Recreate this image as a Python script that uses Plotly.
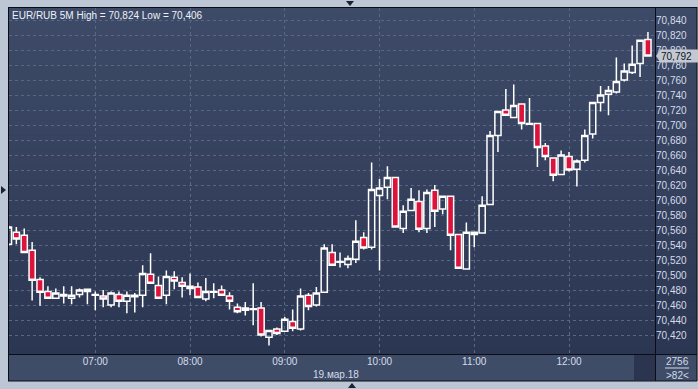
import plotly.graph_objects as go
import pandas as pd

W, H = 698, 389

# ---- data (EUR/RUB 5M, 19.03.18) ----
start_time = "2018-03-19 06:05"
n_candles = 82
open_ = [70.541, 70.557, 70.553, 70.533, 70.494, 70.478, 70.469, 70.474, 70.469, 70.474,
         70.481, 70.473, 70.472, 70.460, 70.474, 70.465, 70.473, 70.473, 70.501, 70.486,
         70.473, 70.497, 70.490, 70.485, 70.484, 70.468, 70.477, 70.480, 70.472, 70.457,
         70.453, 70.454, 70.456, 70.417, 70.428, 70.425, 70.438, 70.428, 70.473, 70.460,
         70.477, 70.530, 70.517, 70.514, 70.521, 70.550, 70.537, 70.606, 70.617, 70.630,
         70.562, 70.586, 70.598, 70.562, 70.613, 70.588, 70.605, 70.554, 70.508, 70.557,
         70.556, 70.594, 70.686, 70.720, 70.710, 70.728, 70.701, 70.702, 70.672, 70.656,
         70.634, 70.658, 70.641, 70.653, 70.688, 70.730, 70.741, 70.744, 70.760, 70.770,
         70.782, 70.814]
high = [70.566, 70.564, 70.562, 70.544, 70.497, 70.485, 70.482, 70.485, 70.485, 70.482,
        70.481, 70.478, 70.480, 70.478, 70.478, 70.478, 70.476, 70.513, 70.529, 70.498,
        70.506, 70.505, 70.497, 70.502, 70.490, 70.496, 70.489, 70.486, 70.477, 70.462,
        70.464, 70.489, 70.464, 70.426, 70.430, 70.444, 70.454, 70.482, 70.476, 70.484,
        70.541, 70.541, 70.530, 70.526, 70.573, 70.557, 70.650, 70.628, 70.645, 70.630,
        70.593, 70.616, 70.613, 70.614, 70.620, 70.605, 70.605, 70.554, 70.570, 70.557,
        70.605, 70.692, 70.718, 70.748, 70.754, 70.729, 70.736, 70.702, 70.676, 70.656,
        70.666, 70.664, 70.654, 70.694, 70.730, 70.752, 70.752, 70.790, 70.782, 70.806,
        70.813, 70.824]
low = [70.539, 70.541, 70.530, 70.466, 70.459, 70.469, 70.469, 70.462, 70.461, 70.470,
       70.461, 70.453, 70.457, 70.457, 70.457, 70.449, 70.450, 70.457, 70.489, 70.468,
       70.461, 70.481, 70.470, 70.473, 70.470, 70.465, 70.469, 70.473, 70.454, 70.449,
       70.446, 70.433, 70.418, 70.406, 70.420, 70.424, 70.425, 70.426, 70.453, 70.458,
       70.477, 70.512, 70.510, 70.509, 70.516, 70.534, 70.534, 70.506, 70.601, 70.564,
       70.556, 70.585, 70.557, 70.556, 70.564, 70.581, 70.533, 70.508, 70.508, 70.537,
       70.556, 70.593, 70.664, 70.712, 70.709, 70.694, 70.700, 70.644, 70.653, 70.625,
       70.634, 70.638, 70.618, 70.650, 70.682, 70.718, 70.713, 70.742, 70.758, 70.768,
       70.764, 70.792]
close = [70.564, 70.548, 70.530, 70.493, 70.477, 70.469, 70.476, 70.472, 70.473, 70.480,
         70.478, 70.474, 70.468, 70.476, 70.465, 70.473, 70.471, 70.502, 70.489, 70.469,
         70.498, 70.492, 70.485, 70.482, 70.470, 70.478, 70.478, 70.473, 70.465, 70.451,
         70.456, 70.455, 70.420, 70.426, 70.422, 70.441, 70.429, 70.472, 70.458, 70.476,
         70.536, 70.513, 70.518, 70.522, 70.545, 70.536, 70.614, 70.616, 70.630, 70.564,
         70.585, 70.601, 70.561, 70.610, 70.585, 70.605, 70.553, 70.509, 70.557, 70.554,
         70.593, 70.686, 70.718, 70.713, 70.726, 70.702, 70.702, 70.670, 70.658, 70.633,
         70.660, 70.640, 70.652, 70.686, 70.730, 70.740, 70.746, 70.758, 70.772, 70.781,
         70.813, 70.792]

hour_ticks = ["2018-03-19 07:00", "2018-03-19 08:00", "2018-03-19 09:00",
              "2018-03-19 10:00", "2018-03-19 11:00", "2018-03-19 12:00"]
hour_labels = ["07:00", "08:00", "09:00", "10:00", "11:00", "12:00"]
y_ticks = [70.42 + 0.02 * i for i in range(22)]
title_text = "EUR/RUB 5M High = 70,824 Low = 70,406"
date_text = "19.мар.18"
last_price = 70.792
bars_text = "2756"
count_text = ">82<"

times = pd.date_range(start_time, periods=n_candles, freq="5min")

# ---- pixel helpers (paper coordinates) ----
def px(x):
    return x / W

def py(y):
    return 1 - y / H

PL, PR, PT, PB = 9, 655, 8, 354   # plot area in px
FONT = "Liberation Sans, Arial, sans-serif"
TXT = "#d5dcea"

fig = go.Figure()
fig.add_trace(go.Candlestick(
    x=times, open=open_, high=high, low=low, close=close,
    increasing=dict(line=dict(color="#ffffff", width=1.5), fillcolor="rgba(0,0,0,0)"),
    decreasing=dict(line=dict(color="#ffffff", width=1.5), fillcolor="#dc143c"),
    whiskerwidth=0, showlegend=False, hoverinfo="skip",
))

shapes = []
# outer dark panel base
shapes.append(dict(type="rect", xref="paper", yref="paper", layer="below",
                   x0=px(8), x1=px(697), y0=py(381), y1=py(7),
                   fillcolor="#2c3752", line=dict(width=0)))
# gradient bands for plot + y-axis column
def lerp(a, b, t):
    return int(round(a + (b - a) * t))
top_c = (0x3e, 0x4b, 0x68)
bot_c = (0x2b, 0x36, 0x52)
nb = 46
for i in range(nb):
    y0 = 7 + (PB - 7) * i / nb
    y1 = 7 + (PB - 7) * (i + 1) / nb
    t = (i + 0.5) / nb
    col = "rgb(%d,%d,%d)" % tuple(lerp(top_c[j], bot_c[j], t) for j in range(3))
    shapes.append(dict(type="rect", xref="paper", yref="paper", layer="below",
                       x0=px(8), x1=px(697), y0=py(y1 + 0.5), y1=py(y0),
                       fillcolor=col, line=dict(width=0)))
# x-axis panel
shapes.append(dict(type="rect", xref="paper", yref="paper", layer="below",
                   x0=px(8), x1=px(697), y0=py(381), y1=py(PB),
                   fillcolor="#3e4c68", line=dict(width=0)))
# dark block at right of x-axis panel
shapes.append(dict(type="rect", xref="paper", yref="paper", layer="below",
                   x0=px(634), x1=px(655), y0=py(380), y1=py(355),
                   fillcolor="#2b354f", line=dict(width=0)))
# border lines
blk = dict(color="#0a0d14", width=1)
for (x0, y0, x1, y1) in [(PR + 0.5, 7, PR + 0.5, 381), (8, PB + 0.5, 697, PB + 0.5),
                         (8.5, 7, 8.5, 381), (8, 7.5, 697, 7.5), (8, 381, 697, 381),
                         (697, 7, 697, 381)]:
    shapes.append(dict(type="line", xref="paper", yref="paper", layer="above",
                       x0=px(x0), x1=px(x1), y0=py(y0), y1=py(y1), line=blk))
# separator under bar count
shapes.append(dict(type="line", xref="paper", yref="paper", layer="above",
                   x0=px(665), x1=px(689), y0=py(368), y1=py(368),
                   line=dict(color="#d5dcea", width=1)))
# scroll markers
tri = "#1b2233"
shapes.append(dict(type="path", xref="paper", yref="paper", layer="above",
                   path="M %f,%f L %f,%f L %f,%f Z" % (px(346), py(1), px(354), py(1), px(350), py(6)),
                   fillcolor=tri, line=dict(width=0)))
shapes.append(dict(type="path", xref="paper", yref="paper", layer="above",
                   path="M %f,%f L %f,%f L %f,%f Z" % (px(1), py(186), px(1), py(194), px(6), py(190)),
                   fillcolor=tri, line=dict(width=0)))
shapes.append(dict(type="path", xref="paper", yref="paper", layer="above",
                   path="M %f,%f L %f,%f L %f,%f Z" % (px(348), py(388), px(356), py(388), px(352), py(383)),
                   fillcolor=tri, line=dict(width=0)))
# pointer of price box
shapes.append(dict(type="path", xref="paper", yref="y", layer="above",
                   path="M %f,%f L %f,%f L %f,%f Z" % (px(656), last_price, px(660), last_price + 0.0075,
                                                      px(660), last_price - 0.0075),
                   fillcolor="#c4c9d1", line=dict(width=0)))

annotations = [
    dict(text=title_text, xref="paper", yref="paper", x=px(10), y=py(15),
         xanchor="left", yanchor="middle", showarrow=False,
         font=dict(family=FONT, size=10, color="#eef1f7")),
    dict(text=date_text, xref="paper", yref="paper", x=px(336), y=py(374),
         xanchor="center", yanchor="middle", showarrow=False,
         font=dict(family=FONT, size=10, color=TXT)),
    dict(text=bars_text, xref="paper", yref="paper", x=px(677), y=py(361),
         xanchor="center", yanchor="middle", showarrow=False,
         font=dict(family=FONT, size=10, color=TXT)),
    dict(text=count_text, xref="paper", yref="paper", x=px(677), y=py(375),
         xanchor="center", yanchor="middle", showarrow=False,
         font=dict(family=FONT, size=10, color=TXT)),
    dict(text="70,792", xref="paper", yref="y", x=px(659), y=last_price,
         xanchor="left", yanchor="middle", showarrow=False, width=36, height=10,
         align="left", bgcolor="#c4c9d1", borderpad=1,
         font=dict(family=FONT, size=10, color="#0c1424")),
]

grid = dict(showgrid=True, gridcolor="#5a6784", gridwidth=1, griddash="3px,3px")

fig.update_layout(
    width=W, height=H, margin=dict(l=0, r=0, t=0, b=0),
    paper_bgcolor="#bcc6d4", plot_bgcolor="rgba(0,0,0,0)",
    separators=",.", boxgap=0.22, boxgroupgap=0,
    shapes=shapes, annotations=annotations, showlegend=False,
    xaxis=dict(domain=[px(PL), px(PR)], type="date",
               range=["2018-03-19 06:05:21", "2018-03-19 12:54:28"],
               tickvals=hour_ticks, ticktext=hour_labels, ticks="",
               tickfont=dict(family=FONT, size=10, color=TXT),
               rangeslider=dict(visible=False), zeroline=False, showline=False,
               fixedrange=True, **grid),
    yaxis=dict(domain=[py(PB), py(PT)], side="right",
               range=[70.39467, 70.856], tickvals=y_ticks, tickformat=".3f",
               ticks="", tickfont=dict(family=FONT, size=10, color=TXT),
               zeroline=False, showline=False, fixedrange=True, **grid),
)

fig.write_html("out.html")
